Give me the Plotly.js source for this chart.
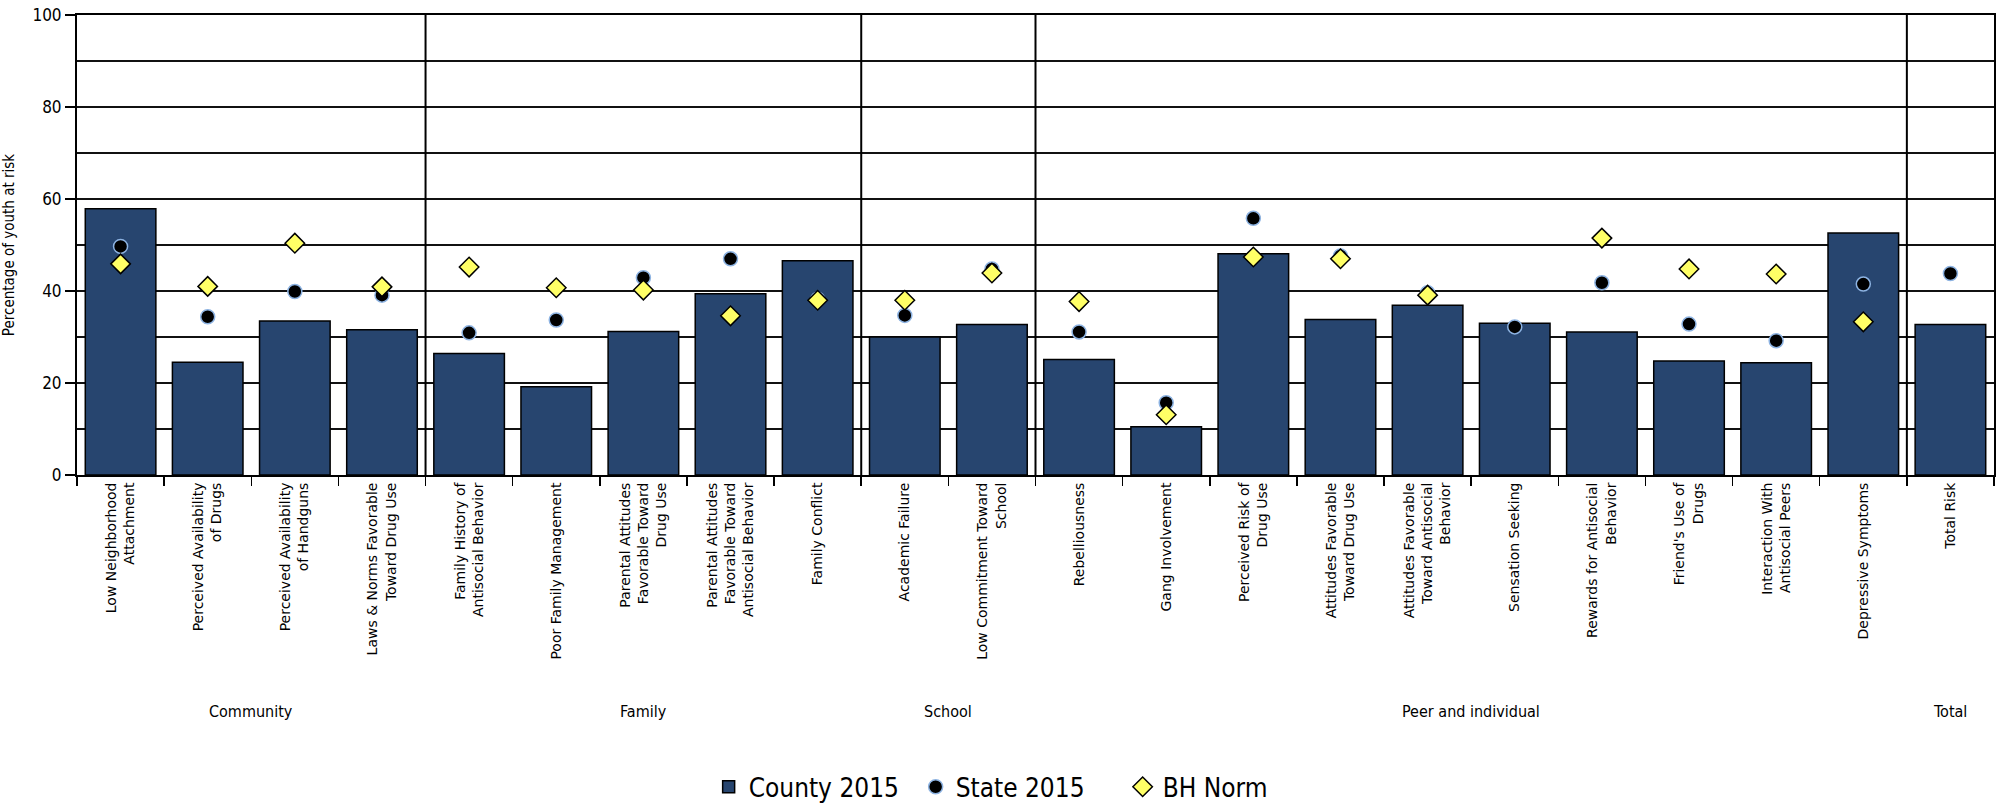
<!DOCTYPE html>
<html>
<head>
<meta charset="utf-8">
<script src="https://cdn.plot.ly/plotly-3.0.1.min.js"></script>
<style>html,body{margin:0;padding:0;background:#fff;}#chart{width:2003px;height:803px;}</style>
</head>
<body>
<div id="chart"></div>
<script>
// ---- data ----
const categories = [
  "Low Neighborhood Attachment",
  "Perceived Availability of Drugs",
  "Perceived Availability of Handguns",
  "Laws & Norms Favorable Toward Drug Use",
  "Family History of Antisocial Behavior",
  "Poor Family Management",
  "Parental Attitudes Favorable Toward Drug Use",
  "Parental Attitudes Favorable Toward Antisocial Behavior",
  "Family Conflict",
  "Academic Failure",
  "Low Commitment Toward School",
  "Rebelliousness",
  "Gang Involvement",
  "Perceived Risk of Drug Use",
  "Attitudes Favorable Toward Drug Use",
  "Attitudes Favorable Toward Antisocial Behavior",
  "Sensation Seeking",
  "Rewards for Antisocial Behavior",
  "Friend's Use of Drugs",
  "Interaction With Antisocial Peers",
  "Depressive Symptoms",
  "Total Risk"
];
const categoryLabels = [
  "Low Neighborhood<br>Attachment",
  "Perceived Availability<br>of Drugs",
  "Perceived Availability<br>of Handguns",
  "Laws & Norms Favorable<br>Toward Drug Use",
  "Family History of<br>Antisocial Behavior",
  "Poor Family Management",
  "Parental Attitudes<br>Favorable Toward<br>Drug Use",
  "Parental Attitudes<br>Favorable Toward<br>Antisocial Behavior",
  "Family Conflict",
  "Academic Failure",
  "Low Commitment Toward<br>School",
  "Rebelliousness",
  "Gang Involvement",
  "Perceived Risk of<br>Drug Use",
  "Attitudes Favorable<br>Toward Drug Use",
  "Attitudes Favorable<br>Toward Antisocial<br>Behavior",
  "Sensation Seeking",
  "Rewards for Antisocial<br>Behavior",
  "Friend's Use of<br>Drugs",
  "Interaction With<br>Antisocial Peers",
  "Depressive Symptoms",
  "Total Risk"
];
const groupNames = ["Community", "Family", "School", "Peer and individual", "Total"];
const groupSizes = [4, 5, 2, 10, 1];

const county2015 = [57.9, 24.5, 33.5, 31.6, 26.4, 19.2, 31.2, 39.4, 46.6, 30.0, 32.7,
                    25.1, 10.5, 48.1, 33.8, 36.9, 33.0, 31.1, 24.8, 24.4, 52.6, 32.7];
const state2015  = [49.7, 34.4, 39.9, 39.1, 30.9, 33.7, 42.9, 47.0, 38.2, 34.7, 44.8,
                    31.1, 15.7, 55.8, 47.6, 39.6, 32.2, 41.8, 32.8, 29.2, 41.5, 43.8];
const bhNorm     = [45.9, 41.0, 50.4, 40.9, 45.2, 40.7, 40.2, 34.6, 38.0, 38.0, 43.9,
                    37.7, 13.1, 47.4, 47.0, 39.1, null, 51.5, 44.8, 43.7, 33.3, null];
const seriesNames = ["County 2015", "State 2015", "BH Norm"];
const yTickValues = [0, 20, 40, 60, 80, 100];
const yTitle = "Percentage of youth at risk";

// ---- styling ----
const narrow = "'Liberation Sans Narrow', 'DejaVu Sans Condensed', 'Liberation Sans', sans-serif";
const wide = "'DejaVu Sans', Verdana, sans-serif";

const traces = [
  {
    type: "bar", name: seriesNames[0], x: categories, y: county2015,
    marker: {color: "#27456F", line: {color: "#000", width: 1.5}},
    hoverinfo: "x+y"
  },
  {
    type: "scatter", mode: "markers", name: seriesNames[1], x: categories, y: state2015,
    marker: {symbol: "circle", size: 14, color: "#000", line: {color: "#8DB3E2", width: 1.5}}
  },
  {
    type: "scatter", mode: "markers", name: seriesNames[2], x: categories, y: bhNorm,
    marker: {symbol: "diamond", size: 15, color: "#FFFF66", line: {color: "#000", width: 1.5}}
  }
];

// group separators and labels derived from group sizes
const shapes = [];
const annotations = [];
let start = 0;
groupSizes.forEach((n, gi) => {
  const end = start + n;
  if (gi < groupSizes.length - 1) {
    shapes.push({type: "line", xref: "x", yref: "y", x0: end - 0.5, x1: end - 0.5, y0: 0, y1: 100,
                 line: {color: "#000", width: 2}, layer: "above"});
  }
  annotations.push({xref: "x", yref: "paper", x: (start + end - 1) / 2, y: -0.515,
                    text: groupNames[gi], showarrow: false, xanchor: "center", yanchor: "middle",
                    font: {family: narrow, size: 16, color: "#000"}});
  start = end;
});

const layout = {
  width: 2003, height: 803,
  margin: {l: 77, r: 9, t: 15, b: 328, autoexpand: false},
  paper_bgcolor: "#fff", plot_bgcolor: "#fff",
  bargap: 0.19,
  showlegend: true,
  legend: {orientation: "h", x: 0.3295, xanchor: "left", y: -0.678, yanchor: "middle",
           font: {family: narrow, size: 26, color: "#000"}, entrywidth: 162, entrywidthmode: "pixels",
           itemwidth: 30, tracegroupgap: 0},
  xaxis: {
    type: "category", tickmode: "array", tickvals: categories, ticktext: categoryLabels,
    range: [-0.5, categories.length - 0.5], autorange: false,
    tickangle: -90, tickson: "boundaries", ticks: "outside", ticklen: 9, tickwidth: 1.5, tickcolor: "#000",
    showgrid: false, showline: true, linecolor: "#000", linewidth: 2, mirror: true,
    tickfont: {family: wide, size: 14, color: "#000"}, automargin: false, fixedrange: true
  },
  yaxis: {
    range: [0, 100], autorange: false, tickmode: "array", tickvals: yTickValues,
    ticks: "outside", ticklen: 10, tickwidth: 1.5, tickcolor: "#000",
    showgrid: true, gridcolor: "#111", gridwidth: 1.5,
    minor: {dtick: 10, tick0: 0, showgrid: true, gridcolor: "#111", gridwidth: 1.5, ticks: ""},
    showline: true, linecolor: "#000", linewidth: 2, mirror: true, zeroline: false,
    tickfont: {family: narrow, size: 17, color: "#000"},
    title: {text: yTitle, font: {family: narrow, size: 15, color: "#000"}, standoff: 21},
    automargin: false, fixedrange: true
  },
  shapes: shapes,
  annotations: annotations
};

Plotly.newPlot("chart", traces, layout, {displayModeBar: false, staticPlot: true});
</script>
</body>
</html>
